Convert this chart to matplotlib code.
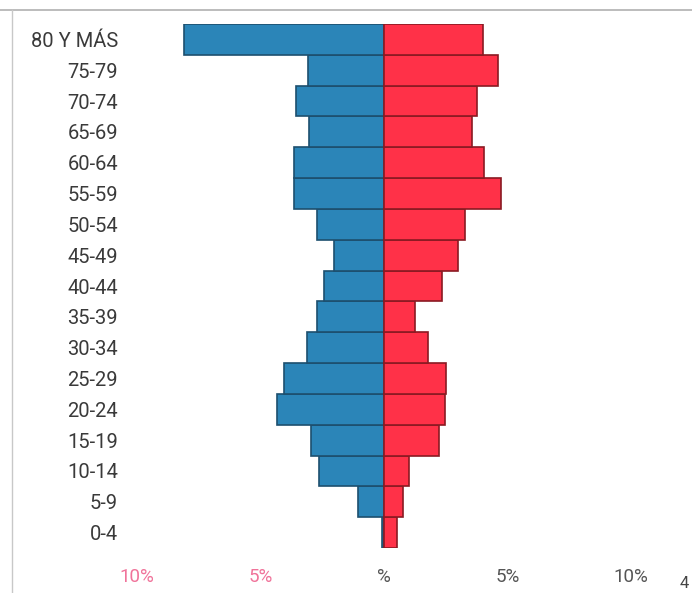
import matplotlib.pyplot as plt
import matplotlib.transforms as mtransforms
import numpy as np

# age groups, bottom to top
ages = ['0-4', '5-9', '10-14', '15-19', '20-24', '25-29', '30-34', '35-39',
        '40-44', '45-49', '50-54', '55-59', '60-64', '65-69', '70-74', '75-79',
        '80 Y MÁS']
# percent of population (left = blue, right = red)
blue = [0.1, 1.05, 2.63, 2.96, 4.33, 4.05, 3.12, 2.71,
        2.43, 2.02, 2.71, 3.64, 3.64, 3.04, 3.56, 3.08, 8.1]
red = [0.53, 0.77, 1.01, 2.23, 2.47, 2.51, 1.78, 1.26,
       2.35, 3.0, 3.28, 4.74, 4.05, 3.56, 3.77, 4.6, 4.0]

xticks = [-10, -5, 0, 5, 10]
xlabels = ['10%', '5%', '%', '5%', '10%']

W, H = 692, 593
fig = plt.figure(figsize=(W / 100, H / 100), dpi=100)
plt.rcParams['font.family'] = ['Roboto', 'DejaVu Sans']

# axes placed in pixel terms: centre line at x=384, ~24.7 px per %
left_px, right_px = 125, 680
top_px, bot_px = 24, 548
ax = fig.add_axes([left_px / W, (H - bot_px) / H,
                   (right_px - left_px) / W, (bot_px - top_px) / H])
scale = 24.7
ax.set_xlim(-(384 - left_px) / scale, (right_px - 384) / scale)
ax.set_ylim(-0.5, len(ages) - 0.5)

y = np.arange(len(ages))
ax.barh(y, -np.array(blue), height=1.0, color='#2b85b8',
        edgecolor='#1d4f6e', linewidth=1.2)
ax.barh(y, red, height=1.0, color='#ff3148',
        edgecolor='#8a1a22', linewidth=1.2)

for s in ax.spines.values():
    s.set_visible(False)
ax.set_xticks([])
ax.set_yticks(y)
ax.set_yticklabels(ages, fontsize=14.5, color='#3a3a3a')
ax.tick_params(axis='y', length=0, pad=5)

# bottom scale labels, x in data units, y at a fixed pixel row
trans = mtransforms.blended_transform_factory(ax.transData, fig.transFigure)
for xv, lab in zip(xticks, xlabels):
    col = '#f0739a' if xv < 0 else '#555555'
    ax.text(xv, (H - 577) / H, lab, transform=trans,
            fontsize=13.5, color=col, ha='center', va='center')

fig.text(684 / W, (H - 583) / H, '4', fontsize=12, color='#444444',
         ha='center', va='center')

# frame lines of the scanned page
fig.add_artist(plt.Line2D([0, 1], [(H - 10) / H] * 2, color='#b0b0b0', lw=1.2))
fig.add_artist(plt.Line2D([12 / W] * 2, [0, (H - 10) / H], color='#c8c8c8', lw=1.0))

fig.savefig('out.png', dpi=100)
